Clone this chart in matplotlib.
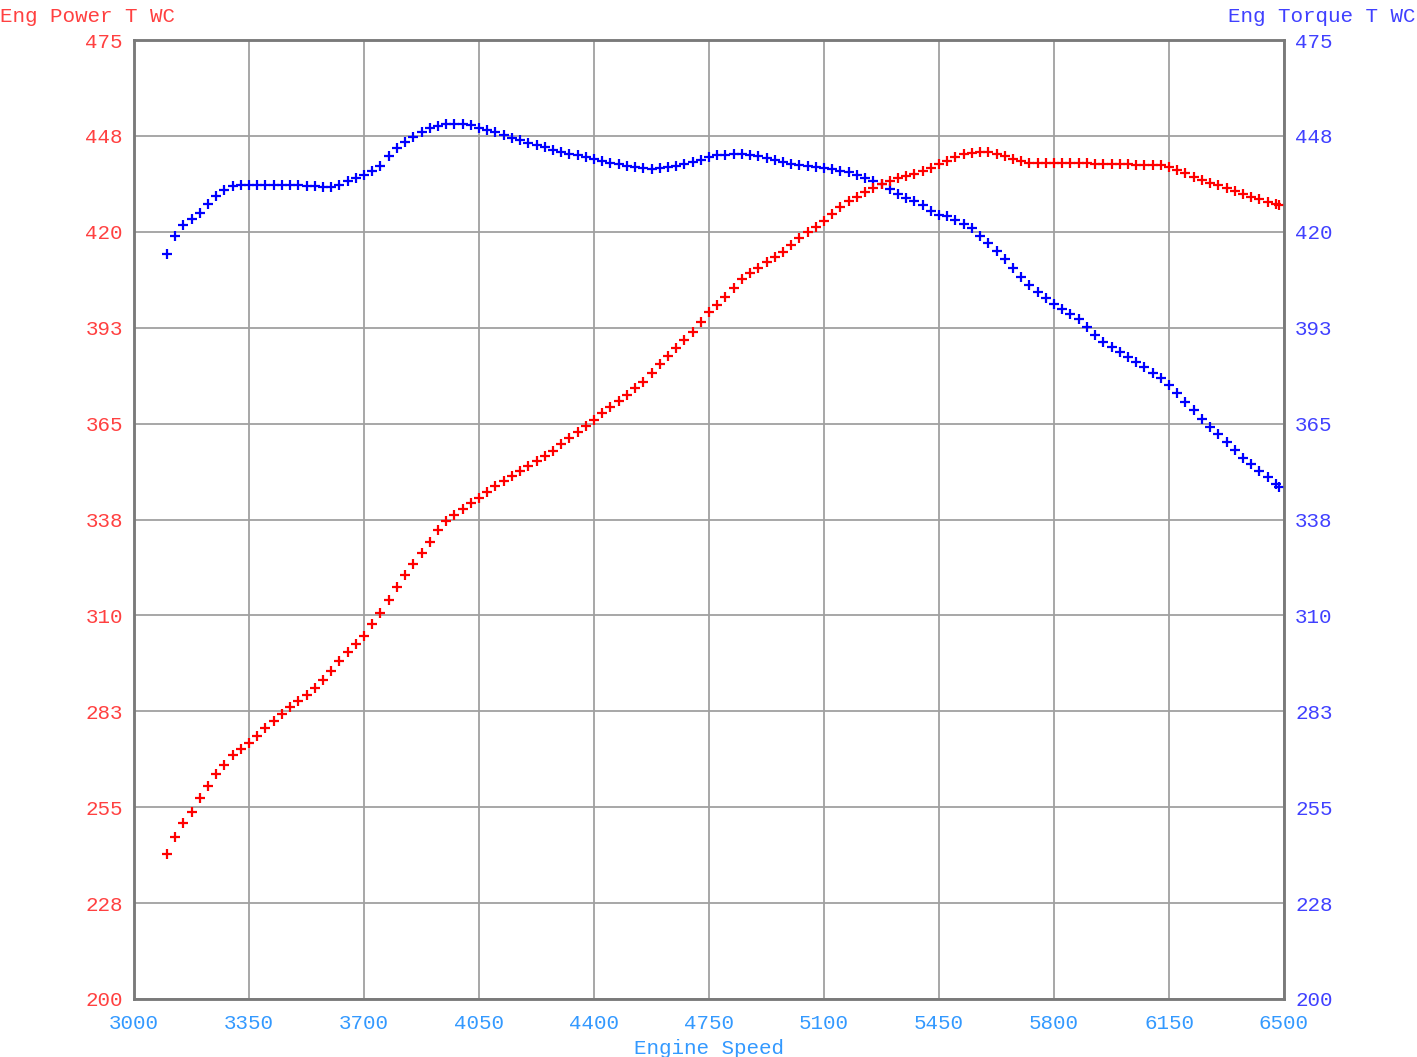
import matplotlib
matplotlib.use("Agg")
import matplotlib.pyplot as plt
import numpy as np

# engine speed sample points (rpm)
rpm = [3100, 3125, 3150, 3175, 3200, 3225, 3250, 3275, 3300, 3325,
       3350, 3375, 3400, 3425, 3450, 3475, 3500, 3525, 3550, 3575,
       3600, 3625, 3650, 3675, 3700, 3725, 3750, 3775, 3800, 3825,
       3850, 3875, 3900, 3925, 3950, 3975, 4000, 4025, 4050, 4075,
       4100, 4125, 4150, 4175, 4200, 4225, 4250, 4275, 4300, 4325,
       4350, 4375, 4400, 4425, 4450, 4475, 4500, 4525, 4550, 4575,
       4600, 4625, 4650, 4675, 4700, 4725, 4750, 4775, 4800, 4825,
       4850, 4875, 4900, 4925, 4950, 4975, 5000, 5025, 5050, 5075,
       5100, 5125, 5150, 5175, 5200, 5225, 5250, 5275, 5300, 5325,
       5350, 5375, 5400, 5425, 5450, 5475, 5500, 5525, 5550, 5575,
       5600, 5625, 5650, 5675, 5700, 5725, 5750, 5775, 5800, 5825,
       5850, 5875, 5900, 5925, 5950, 5975, 6000, 6025, 6050, 6075,
       6100, 6125, 6150, 6175, 6200, 6225, 6250, 6275, 6300, 6325,
       6350, 6375, 6400, 6425, 6450, 6475, 6485]

# Eng Power T WC
power = [241.6, 246.5, 250.6, 253.7, 257.5, 261.1, 264.4, 267.2, 269.9, 271.6,
         273.3, 275.5, 277.6, 279.6, 281.6, 283.6, 285.4, 287.2, 289.1, 291.4,
         294.1, 296.9, 299.4, 301.8, 304.2, 307.4, 310.7, 314.3, 318.1, 321.7,
         324.6, 327.8, 331.1, 334.5, 337.2, 338.9, 340.6, 342.3, 343.8, 345.4,
         347.0, 348.6, 350.0, 351.4, 352.8, 354.2, 355.6, 357.2, 359.1, 360.9,
         362.6, 364.4, 366.1, 367.9, 369.7, 371.5, 373.3, 375.1, 377.0, 379.6,
         382.0, 384.4, 386.7, 389.0, 391.4, 394.2, 396.9, 399.0, 401.2, 403.9,
         406.5, 408.2, 409.7, 411.2, 412.7, 414.2, 416.2, 418.2, 419.9, 421.4,
         423.0, 425.1, 427.1, 428.7, 430.1, 431.3, 432.6, 433.8, 434.6, 435.3,
         436.0, 436.6, 437.5, 438.4, 439.4, 440.4, 441.4, 442.2, 442.7, 442.9,
         442.8, 442.3, 441.7, 441.0, 440.3, 439.8, 439.6, 439.6, 439.7, 439.8,
         439.8, 439.7, 439.6, 439.5, 439.4, 439.3, 439.3, 439.3, 439.2, 439.2,
         439.2, 439.1, 438.6, 437.8, 437.0, 435.8, 434.8, 434.0, 433.3, 432.5,
         431.6, 430.7, 429.9, 429.3, 428.6, 428.0, 427.6]

# Eng Torque T WC
torque = [413.5, 418.7, 422.0, 423.7, 425.3, 428.0, 430.3, 432.0, 433.0, 433.3,
          433.4, 433.4, 433.5, 433.5, 433.5, 433.5, 433.4, 433.2, 433.0, 432.9,
          432.9, 433.4, 434.6, 435.5, 436.4, 437.4, 439.0, 441.6, 443.9, 445.8,
          447.2, 448.5, 449.7, 450.4, 450.8, 450.9, 450.9, 450.5, 449.9, 449.2,
          448.5, 447.8, 447.0, 446.3, 445.6, 444.9, 444.2, 443.6, 443.0, 442.4,
          441.9, 441.4, 440.8, 440.3, 439.8, 439.3, 438.9, 438.5, 438.2, 438.0,
          438.2, 438.5, 438.8, 439.3, 440.0, 440.7, 441.4, 441.9, 442.1, 442.3,
          442.3, 442.0, 441.6, 441.1, 440.5, 439.9, 439.5, 439.2, 438.9, 438.6,
          438.3, 437.9, 437.5, 437.1, 436.3, 435.5, 434.5, 433.6, 432.2, 430.8,
          429.7, 428.9, 427.6, 426.1, 424.8, 424.4, 423.5, 422.3, 421.0, 418.9,
          416.8, 414.5, 412.3, 409.5, 406.9, 404.8, 402.8, 401.1, 399.4, 398.0,
          396.5, 394.9, 392.7, 390.5, 388.4, 386.9, 385.4, 384.0, 382.6, 381.1,
          379.6, 378.0, 376.1, 373.7, 371.3, 368.8, 366.4, 364.1, 361.9, 359.6,
          357.3, 355.2, 353.3, 351.4, 349.6, 347.7, 346.9]

x_ticks = [3000, 3350, 3700, 4050, 4400, 4750, 5100, 5450, 5800, 6150, 6500]
y_ticks = [200, 227.5, 255, 282.5, 310, 337.5, 365, 392.5, 420, 447.5, 475]
y_labels = ["200", "228", "255", "283", "310", "338", "365", "393", "420", "448", "475"]

plt.rcParams["font.family"] = ["Liberation Mono", "DejaVu Sans Mono"]
fontsize = 15

red_lbl = "#ff4040"
blue_lbl = "#4040ff"
xlbl = "#3399ff"

fig = plt.figure(figsize=(14.17, 10.57), dpi=100)
ax = fig.add_axes([134/1417, 58/1057, 1150/1417, 959/1057])
ax2 = ax.twinx()

ax.plot(rpm, torque, linestyle="none", marker="+", color="#0000ff",
        markersize=6.5, markeredgewidth=1.6, zorder=3)
ax.plot(rpm, power, linestyle="none", marker="+", color="#ff0000",
        markersize=6.5, markeredgewidth=1.6, zorder=4)

for a in (ax, ax2):
    a.set_xlim(3000, 6500)
    a.set_ylim(200, 475)
    a.set_yticks(y_ticks)
    a.set_yticklabels(y_labels)
    for s in a.spines.values():
        s.set_color("#7a7a7a")
        s.set_linewidth(1.8)

ax.set_xticks(x_ticks)
ax.grid(True, color="#a0a0a0", linewidth=1.3)
ax.set_axisbelow(True)

ax.tick_params(axis="y", length=0, pad=8, labelsize=fontsize, labelcolor=red_lbl)
ax.tick_params(axis="x", length=0, pad=11, labelsize=fontsize, labelcolor=xlbl)
ax2.tick_params(axis="y", length=0, pad=8, labelsize=fontsize, labelcolor=blue_lbl)

ax.set_xlabel("Engine Speed", fontsize=fontsize, color=xlbl, labelpad=4)

fig.text(0.0, 1 - 17/1057, "Eng Power T WC", color=red_lbl, fontsize=fontsize,
         ha="left", va="center")
fig.text(1415/1417, 1 - 17/1057, "Eng Torque T WC", color=blue_lbl, fontsize=fontsize,
         ha="right", va="center")

fig.savefig("out.png", dpi=100)
